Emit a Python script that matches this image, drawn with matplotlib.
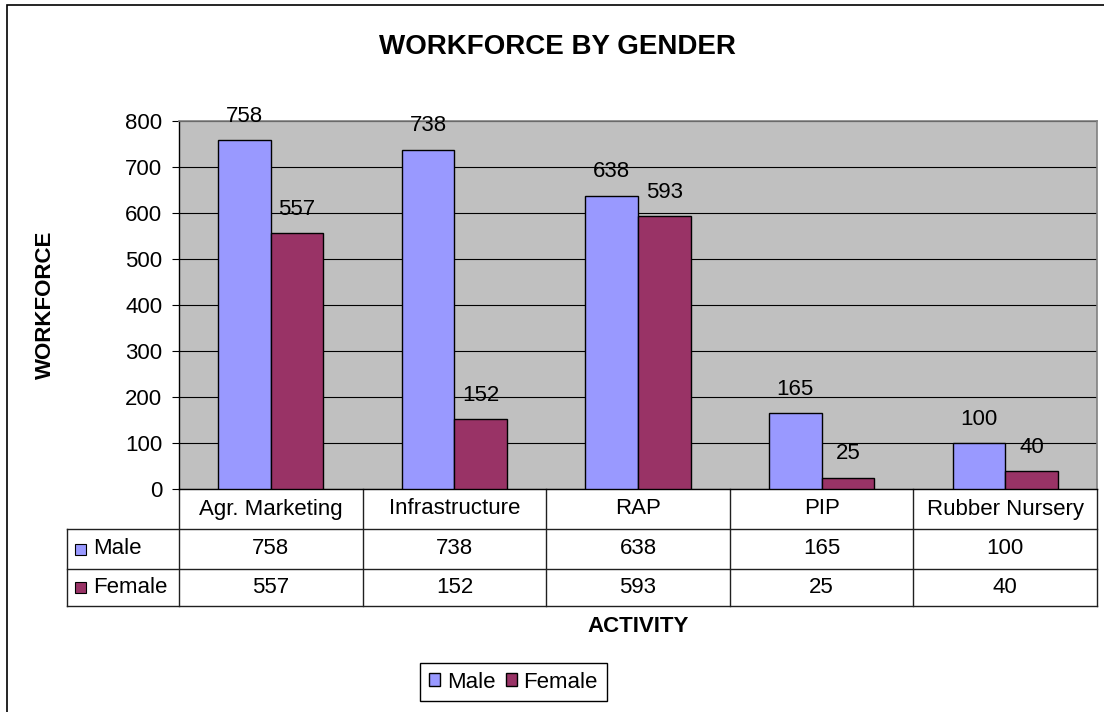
import numpy as np
import matplotlib
matplotlib.use('Agg')
import matplotlib.pyplot as plt
from matplotlib.patches import Rectangle

plt.rcParams['font.family'] = ['Liberation Sans', 'DejaVu Sans']

# data
categories = ['Agr. Marketing', 'Infrastructure', 'RAP', 'PIP', 'Rubber Nursery']
series_names = ['Male', 'Female']
male = [758, 738, 638, 165, 100]
female = [557, 152, 593, 25, 40]
colors = ['#9999FF', '#993366']

W, H = 1104, 712
FS = 16
fig = plt.figure(figsize=(W / 100, H / 100), dpi=100)

# outer chart border (runs off the right/bottom edge like the source)
fig.patches.append(Rectangle((7 / W, -0.05), 1.2, 1 - 5 / H + 0.05,
                             transform=fig.transFigure, fill=False,
                             edgecolor='black', lw=1.2))

# plot area in pixels: x 179..1097, y 121..489
ax = fig.add_axes([179 / W, 1 - 489 / H, 918 / W, 368 / H])
ax.set_facecolor('#C0C0C0')

x = np.arange(len(categories))
w = 0.286
bars_m = ax.bar(x - w / 2, male, w, color=colors[0], edgecolor='black', lw=1.0, zorder=3, label=series_names[0])
bars_f = ax.bar(x + w / 2, female, w, color=colors[1], edgecolor='black', lw=1.0, zorder=3, label=series_names[1])

ax.set_xlim(-0.5, len(categories) - 0.5)
ax.set_ylim(0, 800)
ax.set_yticks(range(0, 801, 100))
ax.yaxis.grid(True, color='black', lw=0.8)
ax.set_axisbelow(True)
ax.set_xticks([])
ax.tick_params(axis='y', length=5, width=0.8, pad=7, labelsize=FS, color='black')
for s in ['left', 'bottom']:
    ax.spines[s].set_color('black')
    ax.spines[s].set_linewidth(1.0)
for s in ['top', 'right']:
    ax.spines[s].set_color('#808080')
    ax.spines[s].set_linewidth(1.2)

# value labels above bars
for bars, vals in [(bars_m, male), (bars_f, female)]:
    for b, v in zip(bars, vals):
        ax.annotate(str(v), (b.get_x() + b.get_width() / 2, v), xytext=(0, 13),
                    textcoords='offset points', ha='center', va='baseline', fontsize=FS)

# data table below the plot
tr = ax.get_xaxis_transform()
tax = ax.transAxes
y_head = -40 / 368
y_male = -80 / 368
y_fem = -117 / 368
x_lab = -112 / 918
lc = '#202020'
lw = 1.0
n = len(categories)
# vertical separators
for i in range(n + 1):
    ax.plot([i - 0.5, i - 0.5], [0, y_fem], transform=tr, color=lc, lw=lw, clip_on=False)
ax.plot([x_lab, x_lab], [y_head, y_fem], transform=tax, color=lc, lw=lw, clip_on=False)
# horizontal lines
for yy in [y_head, y_male, y_fem]:
    ax.plot([x_lab, 1], [yy, yy], transform=tax, color=lc, lw=lw, clip_on=False)
# header and values
for i, cat in enumerate(categories):
    ax.text(i, y_head / 2, cat, transform=tr, ha='center', va='center', fontsize=FS)
    ax.text(i, (y_head + y_male) / 2, str(male[i]), transform=tr, ha='center', va='center', fontsize=FS)
    ax.text(i, (y_male + y_fem) / 2, str(female[i]), transform=tr, ha='center', va='center', fontsize=FS)
# row labels with colour keys
for name, col, (top, bot) in zip(series_names, colors, [(y_head, y_male), (y_male, y_fem)]):
    mid = (top + bot) / 2
    ax.add_patch(Rectangle((-104 / 918, mid - 5.5 / 368), 11 / 918, 11 / 368, transform=tax,
                           facecolor=col, edgecolor='black', lw=0.8, clip_on=False))
    ax.text(-86 / 918, mid, name, transform=tax, ha='left', va='center', fontsize=FS)

# titles
fig.text(557 / W, 1 - 47 / H, 'WORKFORCE BY GENDER', ha='center', va='center',
         fontsize=20, fontweight='bold')
fig.text(45 / W, 1 - 305 / H, 'WORKFORCE', rotation=90, ha='center', va='center',
         fontsize=FS, fontweight='bold')
fig.text(638 / W, 1 - 627 / H, 'ACTIVITY', ha='center', va='center',
         fontsize=FS, fontweight='bold')

# legend
leg = fig.legend(handles=[bars_m, bars_f], labels=series_names, loc='center',
                 bbox_to_anchor=(513.5 / W, 1 - 682 / H), ncol=2, fontsize=FS,
                 frameon=True, fancybox=False, edgecolor='black', framealpha=1,
                 handlelength=0.5, handleheight=0.5, handletextpad=0.3,
                 columnspacing=0.45, borderpad=0.4, borderaxespad=0)
leg.get_frame().set_linewidth(1.0)

fig.savefig('out.png', dpi=100)
